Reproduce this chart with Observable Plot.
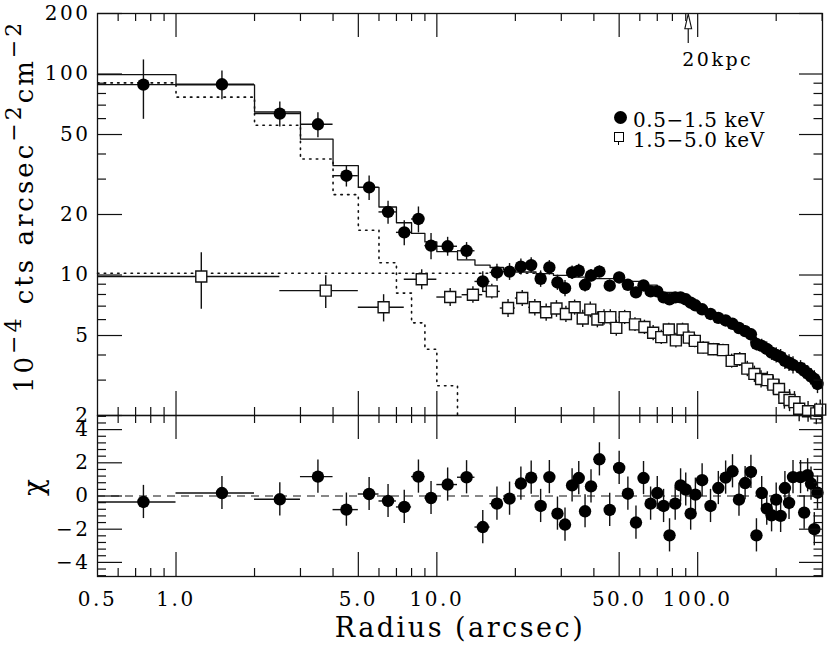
<!DOCTYPE html>
<html><head><meta charset="utf-8">
<script src="https://cdn.jsdelivr.net/npm/d3@7"></script>
<script src="https://cdn.jsdelivr.net/npm/@observablehq/plot@0.6"></script>
<style>
html,body{margin:0;padding:0;background:#fff;}
#wrap{position:relative;width:830px;height:650px;overflow:hidden;font-family:"DejaVu Serif",serif;color:#000;}
#top{position:absolute;left:0;top:0;}
#bot{position:absolute;left:0;top:412px;}
#ytitle{position:absolute;left:11px;top:393px;transform-origin:0 0;transform:rotate(-90deg);white-space:nowrap;font-size:26px;line-height:26px;letter-spacing:3px;}
#ytitle sup{font-size:22px;vertical-align:baseline;position:relative;top:-0.55em;}
.leg{position:absolute;left:633px;font-size:20px;line-height:20px;white-space:nowrap;letter-spacing:0.6px;}
#symc{position:absolute;left:613.5px;top:110.8px;width:13px;height:13px;border-radius:50%;background:#000;}
#syms{position:absolute;left:613.5px;top:132px;width:8px;height:8px;border:1.3px solid #000;background:#fff;}
#symst{position:absolute;left:618.2px;top:141.5px;width:1.2px;height:3px;background:#000;}
</style></head>
<body>
<div id="wrap">
  <div id="top"></div>
  <div id="bot"></div>
  <div id="ytitle">10<sup>−4</sup>  cts  arcsec<sup>−2</sup>cm<sup>−2</sup></div>
  <div id="symc"></div><div class="leg" style="top:109.8px">0.5−1.5 keV</div>
  <div id="syms"></div><div id="symst"></div><div class="leg" style="top:129.8px">1.5−5.0 keV</div>
</div>
<script>
// ---------- data ----------
// soft band 0.5-1.5 keV (filled circles)
const softR = [0.75,1.5,2.5,3.5,4.5,5.5,6.5,7.5,8.5,9.5,
  11,13,15,17,19,21,23,25,27,29,31,33,35,37,39,
  42,46,50,54,58,62,66,70,74,78,82,86,90,94,98,
  104,112,120,128,136,144,152,160,168,176,184,192,200,208,216,224,232,
  248,256,264,272,280,288];
const softHalf = [0.25,0.5,0.5,0.5,0.5,0.5,0.5,0.5,0.5,0.5,
  1,1,1,1,1,1,1,1,1,1,1,1,1,1,1,
  2,2,2,2,2,2,2,2,2,2,2,2,2,2,2,
  4,4,4,4,4,4,4,4,4,4,4,4,4,4,4,4,4,
  4,4,4,4,4,4];
const softV = [88.5,88.9,63.5,56.2,31.2,27.3,20.6,16.3,19.0,14.0,
  13.9,13.2,9.29,10.3,10.4,11.0,11.2,9.58,10.9,9.18,8.6,10.3,10.5,8.94,9.94,
  10.4,8.85,9.72,8.94,8.2,8.87,8.29,8.29,7.74,7.57,7.74,7.74,7.57,7.28,7.07,
  6.75,6.40,6.12,5.94,5.72,5.45,5.26,5.07,4.54,4.44,4.29,4.11,4.0,3.91,3.74,3.66,3.57,
  3.45,3.34,3.24,3.13,3.04,2.87];
const softErr = [29,14.5,9,8,3.8,3.8,2.7,2.3,2.8,2.1,
  1.5,1.3,1.1,1.0,1.0,1.0,1.0,0.9,0.9,0.8,0.8,0.8,0.8,0.7,0.7,
  0.7,0.6,0.6,0.5,0.5,0.5,0.5,0.45,0.45,0.45,0.45,0.4,0.4,0.4,0.4,
  0.35,0.35,0.35,0.35,0.35,0.35,0.35,0.35,0.35,0.35,0.35,0.35,0.35,0.35,0.35,0.35,0.35,
  0.3,0.3,0.3,0.3,0.3,0.3];
const softChi = [-0.36,0.18,-0.2,1.17,-0.82,0.12,-0.3,-0.66,1.17,-0.12,
  0.69,1.13,-1.87,-0.46,-0.16,0.75,1.11,-0.6,1.14,-1.06,-1.72,0.64,1.08,-0.92,0.58,
  2.21,-0.84,1.69,0.14,-1.6,1.08,-0.46,0.18,-0.6,-2.37,-0.46,0.64,0.39,-1.06,0.08,
  0.95,-0.6,0.48,1.11,1.49,-0.22,0.78,1.45,-2.37,0.18,-0.76,-1.16,-0.22,-1.2,0.48,-0.42,1.14,
  1.14,-1.0,1.25,0.75,-2.0,0.2];
const chiErr = 1;

// hard band 1.5-5.0 keV (open squares)
const hardR = [1.25,3.75,6.25,8.75,11.25,13.75,16.25,18.75,21.25,23.75,26.25,28.75,31.25,33.75,36.25,38.75,41.25,43.75,46.25,48.75,
  52.5,57.5,62.5,67.5,72.5,77.5,82.5,87.5,92.5,97.5,
  105,115,125,135,145,155,165,175,185,195,205,215,225,235,245,
  265,285,295];
const hardLo = [0.5,2.5,5,7.5,10,12.5,15,17.5,20,22.5,25,27.5,30,32.5,35,37.5,40,42.5,45,47.5,
  50,55,60,65,70,75,80,85,90,95,
  100,110,120,130,140,150,160,170,180,190,200,210,220,230,240,
  260,280,290];
const hardHi = [2.5,5,7.5,10,12.5,15,17.5,20,22.5,25,27.5,30,32.5,35,37.5,40,42.5,45,47.5,50,
  55,60,65,70,75,80,85,90,95,100,
  110,120,130,140,150,160,170,180,190,200,210,220,230,240,250,
  270,290,300];
const hardV = [9.83,8.36,6.91,9.53,7.77,7.98,8.29,6.85,7.68,6.91,6.53,6.81,6.40,6.91,6.08,6.73,6.01,6.17,6.17,5.46,
  6.17,5.68,5.51,5.16,4.91,5.36,4.73,5.36,4.88,4.70,
  4.35,4.27,4.23,3.74,3.81,3.42,3.22,3.04,3.0,2.85,2.71,2.45,2.39,2.33,2.16,
  2.10,2.05,2.14];
const hardErr = [3.07,1.55,1.07,1.08,0.8,0.75,0.7,0.7,0.7,0.65,0.65,0.65,0.6,0.6,0.6,0.6,0.55,0.55,0.55,0.5,
  0.5,0.45,0.45,0.45,0.4,0.4,0.4,0.4,0.4,0.35,
  0.3,0.3,0.3,0.3,0.3,0.3,0.3,0.3,0.3,0.3,0.3,0.3,0.3,0.3,0.3,
  0.25,0.25,0.25];

// soft-band model (solid histogram)
const modelEdges = [0.5,1,2,3,4,5,6,7,8,9,10,12,14,16,18,20,24,28,32,40,50,60,70,80,90,100,120,140,160,180,200,220,240,260,280,300];
const modelV = [99.2,88.2,64.7,47.4,35.0,27.3,21.8,18.2,16.1,14.6,
  13.06,11.9,11.2,10.9,10.6,10.35,10.15,9.95,9.75,9.6,9.3,8.9,8.2,7.7,7.2,
  6.5,5.9,5.3,4.6,4.2,3.85,3.55,3.35,3.1,2.9];
// central component (dotted histogram)
const centralEdges = [0.5,1,2,3,4,5,6,7,8,9,10,12,14];
const centralV = [90.3,76.7,55.6,37.8,25.1,16.7,11.5,8.13,5.78,4.27,2.81,1.5];
// extended component (dotted, flat)
const extEdges = [0.5,26];
const extV = [10.2];

// 20 kpc marker radius (arcsec)
const kpc20 = 92;

// ticks
const xLabels = [0.5,1,5,10,50,100];
const xMajor = [1,5,10,50,100];
const xMinor = [0.6,0.7,0.8,0.9,2,3,4,6,7,8,9,20,30,40,60,70,80,90,200,300];
const yTopLabels = [2,5,10,20,50,100,200];
const yTopMinor = [3,4,6,7,8,9,30,40,60,70,80,90];
const chiLabels = [-4,-2,0,2,4];
const chiMinor = [-4.8,-4.4,-3.6,-3.2,-2.8,-2.4,-1.6,-1.2,-0.8,-0.4,0.4,0.8,1.2,1.6,2.4,2.8,3.2,3.6,4.4,4.8];

// ---------- build ----------
const soft = softR.map((r,i)=>({r, h: softHalf[i], v: softV[i], e: softErr[i], chi: softChi[i]}));
const hard = hardR.map((r,i)=>({r, lo: hardLo[i], hi: hardHi[i], v: hardV[i], e: hardErr[i]}));
function steps(edges, vals){
  const p = vals.map((v,i)=>({x: edges[i], y: v}));
  p.push({x: edges[edges.length-1], y: vals[vals.length-1]});
  return p;
}
const ink = "#111";
const W = 830, ML = 97, MR = 8, innerW = W - ML - MR;
const topH = 420, topMT = 13, topMB = 5, topInner = topH - topMT - topMB;
const botH = 238, botMT = 3, botMB = 74, botInner = botH - botMT - botMB;
const xScale = {type: "log", domain: [0.5, 301], axis: null};
const minus = d => d < 0 ? "\u2212" + (-d) : String(d);

function frameTicks(inner, yMajor, yMinor){
  const s = {stroke: ink, strokeWidth: 1.2};
  return [
    Plot.tickX(xMajor, {x: d=>d, insetTop: inner - 24, ...s}),
    Plot.tickX(xMajor, {x: d=>d, insetBottom: inner - 24, ...s}),
    Plot.tickX(xMinor, {x: d=>d, insetTop: inner - 8, ...s}),
    Plot.tickX(xMinor, {x: d=>d, insetBottom: inner - 8, ...s}),
    Plot.tickY(yMajor, {y: d=>d, insetRight: innerW - 25, ...s}),
    Plot.tickY(yMajor, {y: d=>d, insetLeft: innerW - 23, ...s}),
    Plot.tickY(yMinor, {y: d=>d, insetRight: innerW - 9, ...s}),
    Plot.tickY(yMinor, {y: d=>d, insetLeft: innerW - 8.5, ...s})
  ];
}
const headSymbol = {draw(ctx){ ctx.moveTo(0,-15); ctx.lineTo(3.4,0); ctx.lineTo(-3.4,0); ctx.closePath(); }};
const tickText = {fontSize: 20};

const topPlot = Plot.plot({
  width: W, height: topH,
  marginLeft: ML, marginRight: MR, marginTop: topMT, marginBottom: topMB,
  x: xScale,
  y: {type: "log", domain: [2, 200], axis: null},
  style: {fontFamily: "DejaVu Serif", fontSize: "20px", letterSpacing: "2.5px", overflow: "visible", background: "transparent"},
  marks: [
    Plot.line(steps(centralEdges, centralV), {x: "x", y: "y", curve: "step-after", stroke: ink, strokeWidth: 1.6, strokeDasharray: "1.5,5.2", clip: true}),
    Plot.line(steps(extEdges, extV), {x: "x", y: "y", curve: "step-after", stroke: ink, strokeWidth: 1.6, strokeDasharray: "1.5,5.2"}),
    Plot.line(steps(modelEdges, modelV), {x: "x", y: "y", curve: "step-after", stroke: ink, strokeWidth: 1.3}),
    Plot.ruleX(hard, {x: "r", y1: d=>d.v-d.e, y2: d=>d.v+d.e, stroke: ink, strokeWidth: 1.4}),
    Plot.ruleY(hard, {y: "v", x1: "lo", x2: "hi", stroke: ink, strokeWidth: 1.4}),
    Plot.dot(hard, {x: "r", y: "v", r: 6.2, symbol: "square", fill: "white", stroke: ink, strokeWidth: 1.4}),
    Plot.ruleX(soft, {x: "r", y1: d=>d.v-d.e, y2: d=>d.v+d.e, stroke: ink, strokeWidth: 1.4}),
    Plot.ruleY(soft, {y: "v", x1: d=>d.r-d.h, x2: d=>d.r+d.h, stroke: ink, strokeWidth: 1.4}),
    Plot.dot(soft, {x: "r", y: "v", r: 6.2, fill: "black"}),
    ...frameTicks(topInner, yTopLabels, yTopMinor),
    Plot.text(yTopLabels, {y: d=>d, frameAnchor: "left", dx: -7, textAnchor: "end", text: d=>String(d), ...tickText}),
    Plot.tickX([kpc20], {x: d=>d, insetTop: 15, insetBottom: topInner - 30, stroke: ink, strokeWidth: 1.2}),
    Plot.dot([kpc20], {x: d=>d, frameAnchor: "top", dy: 15.3, symbol: headSymbol, fill: "white", stroke: ink, strokeWidth: 1.1}),
    Plot.text([kpc20], {x: d=>d, frameAnchor: "top", text: () => "20kpc", dy: 39, dx: -6, textAnchor: "start", lineAnchor: "top", fontSize: 19}),
    Plot.frame({stroke: ink, strokeWidth: 1.3})
  ]
});
document.getElementById("top").appendChild(topPlot);

const botPlot = Plot.plot({
  width: W, height: botH,
  marginLeft: ML, marginRight: MR, marginTop: botMT, marginBottom: botMB,
  x: xScale,
  y: {type: "linear", domain: [-4.85, 4.85], axis: null},
  style: {fontFamily: "DejaVu Serif", fontSize: "20px", letterSpacing: "2.5px", overflow: "visible", background: "transparent"},
  marks: [
    Plot.ruleY([0], {stroke: ink, strokeWidth: 1.2, strokeDasharray: "8,6"}),
    Plot.ruleX(soft, {x: "r", y1: d=>d.chi-chiErr, y2: d=>d.chi+chiErr, stroke: ink, strokeWidth: 1.4}),
    Plot.ruleY(soft, {y: "chi", x1: d=>d.r-d.h, x2: d=>d.r+d.h, stroke: ink, strokeWidth: 1.4}),
    Plot.dot(soft, {x: "r", y: "chi", r: 6.2, fill: "black"}),
    ...frameTicks(botInner, chiLabels, chiMinor),
    Plot.text(chiLabels, {y: d=>d, frameAnchor: "left", dx: -7, textAnchor: "end", text: minus, ...tickText}),
    Plot.text(xLabels, {x: d=>d, frameAnchor: "bottom", dy: 15, lineAnchor: "top", text: d=>d.toFixed(1), ...tickText}),
    Plot.text(["Radius (arcsec)"], {frameAnchor: "bottom", dy: 60, lineAnchor: "bottom", fontSize: 27, text: d=>d}),
    Plot.text(["\u03c7"], {frameAnchor: "left", dx: -63, rotate: -90, fontSize: 28, text: d=>d}),
    Plot.frame({stroke: ink, strokeWidth: 1.3})
  ]
});
document.getElementById("bot").appendChild(botPlot);
</script>
</body></html>
